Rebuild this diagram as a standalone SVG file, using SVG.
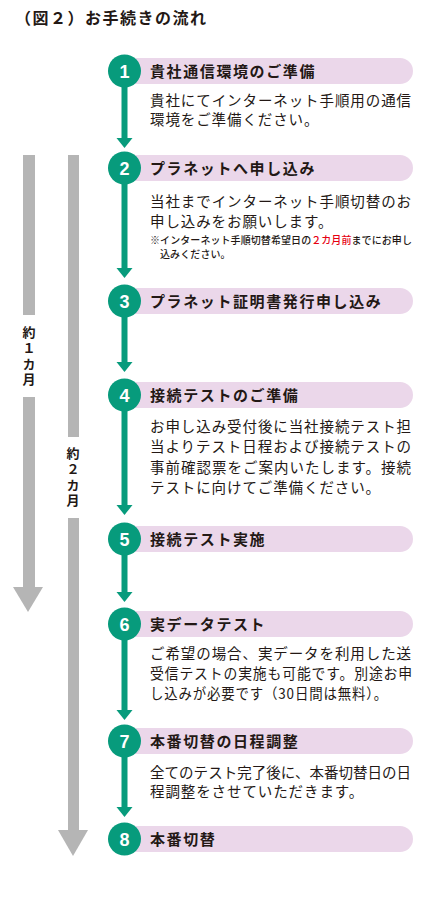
<svg xmlns="http://www.w3.org/2000/svg" width="437" height="912" viewBox="0 0 437 912">
<style>
.bg{fill:#ffffff}
.pill{fill:#ebd7ea}
.circ{fill:#079b7c}
.num{font-family:"Liberation Sans",Arial,sans-serif;font-weight:bold;font-size:18px;fill:#ffffff;text-anchor:middle}
.ttl{font-family:"Noto Sans CJK JP","Noto Sans",sans-serif;font-weight:bold;font-size:15px;letter-spacing:1.6px;fill:#231815}
.desc{font-family:"Noto Sans CJK JP","Noto Sans",sans-serif;font-size:14.5px;letter-spacing:0.9px;fill:#231815}
.note{font-family:"Noto Sans CJK JP","Noto Sans",sans-serif;font-size:10px;font-weight:500;letter-spacing:0.1px;fill:#231815}
.red{fill:#e60012}
.head{font-family:"Noto Sans CJK JP","Noto Sans",sans-serif;font-weight:bold;font-size:16px;letter-spacing:1.5px;fill:#231815}
.vlab{font-family:"Noto Sans CJK JP","Noto Sans",sans-serif;font-weight:bold;font-size:13px;letter-spacing:2.6px;fill:#231815;writing-mode:vertical-rl;text-orientation:upright}
.gbar{fill:#b5b5b5}
.conn{stroke:#079b7c;stroke-width:6;fill:none}
.ah{fill:#079b7c}
</style>
<rect class="bg" x="0" y="0" width="437" height="912"/>
<text class="head" x="15" y="24">（図２）お手続きの流れ</text>

<g id="timeline">
  <rect class="gbar" x="23" y="155" width="12" height="160"/>
  <rect class="gbar" x="23" y="397" width="12" height="190"/>
  <polygon class="gbar" points="13,587 43,587 28,612"/>
  <text class="vlab" x="29" y="326">約１カ月</text>
  <rect class="gbar" x="68" y="155" width="11" height="282"/>
  <rect class="gbar" x="68" y="518" width="11" height="312"/>
  <polygon class="gbar" points="58,830 88,830 73,856"/>
  <text class="vlab" x="73" y="447">約２カ月</text>
</g>

<g id="connectors">
  <line class="conn" x1="124.5" y1="80" x2="124.5" y2="140"/>
  <polygon class="ah" points="116.5,138 132.5,138 124.5,148"/>
  <line class="conn" x1="124.5" y1="176" x2="124.5" y2="270"/>
  <polygon class="ah" points="116.5,268 132.5,268 124.5,278"/>
  <line class="conn" x1="124.5" y1="310" x2="124.5" y2="364"/>
  <polygon class="ah" points="116.5,362 132.5,362 124.5,372"/>
  <line class="conn" x1="124.5" y1="404" x2="124.5" y2="507"/>
  <polygon class="ah" points="116.5,505 132.5,505 124.5,515"/>
  <line class="conn" x1="124.5" y1="548" x2="124.5" y2="594"/>
  <polygon class="ah" points="116.5,592 132.5,592 124.5,602"/>
  <line class="conn" x1="124.5" y1="633" x2="124.5" y2="712"/>
  <polygon class="ah" points="116.5,710 132.5,710 124.5,720"/>
  <line class="conn" x1="124.5" y1="750" x2="124.5" y2="809"/>
  <polygon class="ah" points="116.5,807 132.5,807 124.5,817"/>
</g>

<g id="step1">
  <rect class="pill" x="124" y="58" width="289" height="26" rx="13"/>
  <circle class="circ" cx="124.5" cy="71" r="16.5"/>
  <text class="num" x="124.5" y="77.5">1</text>
  <text class="ttl" x="150" y="77">貴社通信環境のご準備</text>
  <text class="desc" x="150" y="106" textLength="262" lengthAdjust="spacing">貴社にてインターネット手順用の通信</text>
  <text class="desc" x="150" y="125">環境をご準備ください。</text>
</g>

<g id="step2">
  <rect class="pill" x="124" y="155" width="289" height="26" rx="13"/>
  <circle class="circ" cx="124.5" cy="168" r="16.5"/>
  <text class="num" x="124.5" y="174.5">2</text>
  <text class="ttl" x="150" y="174">プラネットへ申し込み</text>
  <text class="desc" x="150" y="207" textLength="262" lengthAdjust="spacing">当社までインターネット手順切替のお</text>
  <text class="desc" x="150" y="227">申し込みをお願いします。</text>
  <text class="note" x="150" y="244" textLength="262" lengthAdjust="spacing">※インターネット手順切替希望日の<tspan class="red">２カ月前</tspan>までにお申し</text>
  <text class="note" x="160" y="258">込みください。</text>
</g>

<g id="step3">
  <rect class="pill" x="124" y="288" width="289" height="26" rx="13"/>
  <circle class="circ" cx="124.5" cy="301" r="16.5"/>
  <text class="num" x="124.5" y="307.5">3</text>
  <text class="ttl" x="150" y="307">プラネット証明書発行申し込み</text>
</g>

<g id="step4">
  <rect class="pill" x="124" y="382" width="289" height="26" rx="13"/>
  <circle class="circ" cx="124.5" cy="395" r="16.5"/>
  <text class="num" x="124.5" y="401.5">4</text>
  <text class="ttl" x="150" y="401">接続テストのご準備</text>
  <text class="desc" x="150" y="432" textLength="262" lengthAdjust="spacing">お申し込み受付後に当社接続テスト担</text>
  <text class="desc" x="150" y="452" textLength="262" lengthAdjust="spacing">当よりテスト日程および接続テストの</text>
  <text class="desc" x="150" y="473" textLength="262" lengthAdjust="spacing">事前確認票をご案内いたします。接続</text>
  <text class="desc" x="150" y="493">テストに向けてご準備ください。</text>
</g>

<g id="step5">
  <rect class="pill" x="124" y="526" width="289" height="26" rx="13"/>
  <circle class="circ" cx="124.5" cy="539" r="16.5"/>
  <text class="num" x="124.5" y="545.5">5</text>
  <text class="ttl" x="150" y="545">接続テスト実施</text>
</g>

<g id="step6">
  <rect class="pill" x="124" y="611" width="289" height="26" rx="13"/>
  <circle class="circ" cx="124.5" cy="624" r="16.5"/>
  <text class="num" x="124.5" y="630.5">6</text>
  <text class="ttl" x="150" y="630">実データテスト</text>
  <text class="desc" x="150" y="659" textLength="262" lengthAdjust="spacing">ご希望の場合、実データを利用した送</text>
  <text class="desc" x="150" y="679" textLength="263" lengthAdjust="spacingAndGlyphs">受信テストの実施も可能です。別途お申</text>
  <text class="desc" x="150" y="699" textLength="238" lengthAdjust="spacingAndGlyphs">し込みが必要です（30日間は無料）。</text>
</g>

<g id="step7">
  <rect class="pill" x="124" y="728" width="289" height="26" rx="13"/>
  <circle class="circ" cx="124.5" cy="741" r="16.5"/>
  <text class="num" x="124.5" y="747.5">7</text>
  <text class="ttl" x="150" y="747">本番切替の日程調整</text>
  <text class="desc" x="150" y="778" textLength="262" lengthAdjust="spacing">全てのテスト完了後に、本番切替日の日</text>
  <text class="desc" x="150" y="797">程調整をさせていただきます。</text>
</g>

<g id="step8">
  <rect class="pill" x="124" y="826" width="289" height="26" rx="13"/>
  <circle class="circ" cx="124.5" cy="839" r="16.5"/>
  <text class="num" x="124.5" y="845.5">8</text>
  <text class="ttl" x="150" y="845">本番切替</text>
</g>
</svg>
